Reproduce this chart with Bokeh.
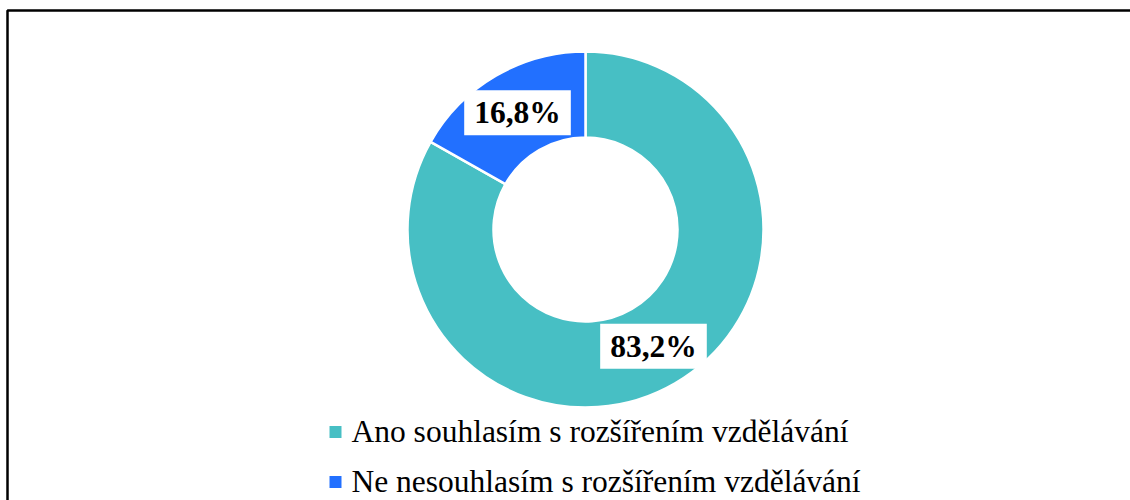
import numpy as np
from bokeh.plotting import figure
from bokeh.models import Range1d, ColumnDataSource
from bokeh.core.properties import value
from bokeh.embed import file_html
from bokeh.resources import INLINE

categories = ["Ano souhlasím s rozšířením vzdělávání", "Ne nesouhlasím s rozšířením vzdělávání"]
values = [83.2, 16.8]
labels = ["83,2%", "16,8%"]
colors = ["#47BFC4", "#2270FF"]

W, H = 1130, 500
FONT = value("'Liberation Serif', 'Times New Roman', serif")

p = figure(width=W, height=H, output_backend="svg", toolbar_location=None,
           x_range=Range1d(0, W), y_range=Range1d(0, H), min_border=0)
p.axis.visible = False
p.grid.visible = False
p.outline_line_color = None
p.background_fill_color = "white"
p.border_fill_color = "white"

cx, cy = 585, H - 229
r_in, r_out = 92, 178

vals = np.array(values)
frac = vals / vals.sum()
cum = np.concatenate([[0], np.cumsum(frac)])
start = np.pi / 2 - cum[:-1] * 2 * np.pi
end = np.pi / 2 - cum[1:] * 2 * np.pi
mid = (start + end) / 2
r_mid = (r_in + r_out) / 2

src = ColumnDataSource(dict(start=start, end=end, color=colors,
                            lx=cx + r_mid * np.cos(mid), ly=cy + r_mid * np.sin(mid),
                            label=labels))

p.annular_wedge(x=cx, y=cy, inner_radius=r_in, outer_radius=r_out,
                start_angle="start", end_angle="end", direction="clock",
                fill_color="color", line_color="white", line_width=2.5, source=src)

p.text(x="lx", y="ly", text="label", source=src, text_font=FONT,
       text_font_style="bold", text_font_size="31.5px", text_color="black",
       text_align="center", text_baseline="middle",
       background_fill_color="white", padding=[10, 5])

# legend
leg = ColumnDataSource(dict(x=[335] * 2, tx=[351] * 2,
                            y=[H - 431.5, H - 481.5],
                            ty=[H - 431, H - 481],
                            color=colors, cat=categories))
p.scatter(x="x", y="y", marker="square", size=12, fill_color="color", line_color=None, source=leg)
p.text(x="tx", y="ty", text="cat", source=leg, text_font=FONT,
       text_font_size="31.5px", text_color="black", text_align="left",
       text_baseline="middle")

# frame border (left and top visible)
p.line(x=[7, 7, W + 10], y=[-10, H - 10, H - 10], line_color="black", line_width=2.5)

open("out.html", "w").write(file_html(p, INLINE))
